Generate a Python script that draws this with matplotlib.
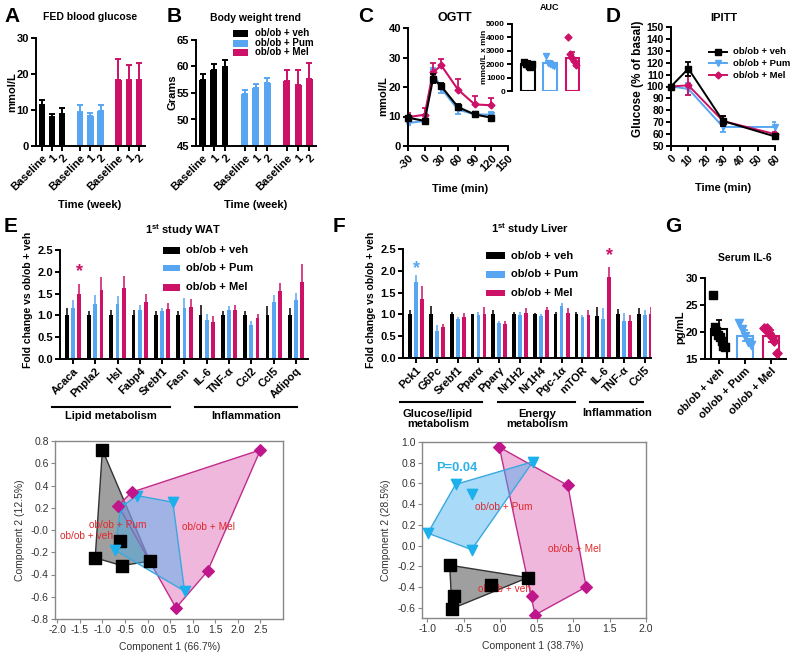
import matplotlib
matplotlib.use('Agg')
import matplotlib.pyplot as plt
import numpy as np
from matplotlib.patches import Polygon, Rectangle
from matplotlib.lines import Line2D
from matplotlib.colors import to_rgba

plt.rcParams['font.family'] = ['Liberation Sans', 'DejaVu Sans']
plt.rcParams['font.weight'] = 'bold'
plt.rcParams['axes.unicode_minus'] = False
plt.rcParams['mathtext.fontset'] = 'custom'
plt.rcParams['mathtext.rm'] = 'Liberation Sans'
plt.rcParams['mathtext.bf'] = 'Liberation Sans:bold'

# ---------------- data ----------------
groups = ["ob/ob + veh", "ob/ob + Pum", "ob/ob + Mel"]
week_labels = ["Baseline", "1", "2"]

a_veh = [11.4, 8.1, 8.8];   a_veh_err = [1.5, 0.9, 1.8]
a_pum = [9.5, 8.3, 9.7];    a_pum_err = [1.9, 1.0, 1.7]
a_mel = [18.4, 18.3, 18.4]; a_mel_err = [5.7, 4.1, 4.6]

b_veh = [57.4, 59.3, 59.9]; b_veh_err = [1.1, 1.2, 1.4]
b_pum = [54.9, 55.9, 56.9]; b_pum_err = [0.7, 0.8, 0.9]
b_mel = [57.3, 56.5, 57.6]; b_mel_err = [2.1, 2.9, 3.0]

c_time = [-30, 0, 15, 30, 60, 90, 120]
c_veh = [9.6, 8.5, 22.8, 20.2, 13.2, 10.7, 9.6];  c_veh_err = [0.8, 0.5, 1.5, 1.0, 1.0, 0.5, 0.6]
c_pum = [7.8, 8.5, 25.0, 19.5, 12.4, 10.7, 10.6]; c_pum_err = [0.8, 0.5, 1.5, 1.5, 1.6, 0.5, 0.8]
c_mel = [9.8, 10.6, 25.0, 27.3, 19.1, 14.1, 13.8]; c_mel_err = [1.5, 2.2, 3.0, 2.3, 3.7, 2.9, 2.6]

auc_mean = [1990, 2100, 2440]
auc_sem = [230, 160, 480]
auc_veh_pts = [2150, 2050, 1980, 1900, 1800, 2000]
auc_pum_pts = [2600, 2100, 2000, 1950, 1900]
auc_mel_pts = [4060, 2740, 2440, 2240, 1940]

d_time = [0, 10, 30, 60]
d_veh = [100, 115, 71, 58]; d_veh_err = [0, 6, 4, 2]
d_pum = [100, 98, 66, 66];  d_pum_err = [0, 5, 4, 4]
d_mel = [100, 101, 71, 60]; d_mel_err = [0, 8, 4, 2]

e_genes = ["Acaca", "Pnpla2", "Hsl", "Fabp4", "Srebf1", "Fasn", "IL-6", "TNF-α", "Ccl2", "Ccl5", "Adipoq"]
e_veh = [1.0] * 11
e_veh_err = [0.18, 0.10, 0.12, 0.13, 0.09, 0.09, 0.23, 0.09, 0.09, 0.22, 0.17]
e_pum = [1.18, 1.27, 1.27, 1.12, 1.09, 1.17, 0.89, 1.12, 0.78, 1.31, 1.35]
e_pum_err = [0.17, 0.19, 0.18, 0.13, 0.09, 0.24, 0.14, 0.10, 0.09, 0.15, 0.17]
e_mel = [1.49, 1.59, 1.62, 1.30, 1.14, 1.20, 0.84, 1.12, 0.95, 1.55, 1.77]
e_mel_err = [0.22, 0.30, 0.28, 0.20, 0.15, 0.17, 0.14, 0.13, 0.08, 0.19, 0.40]

f_genes = ["Pck1", "G6Pc", "Srebf1", "Pparα", "Pparγ", "Nr1H2", "Nr1H4", "Pgc-1α", "mTOR", "IL-6", "TNF-α", "Ccl5"]
f_veh = [1.0, 1.0, 1.0, 1.0, 1.0, 1.0, 1.0, 1.0, 1.0, 0.96, 1.0, 1.0]
f_veh_err = [0.09, 0.20, 0.06, 0.02, 0.09, 0.06, 0.03, 0.06, 0.05, 0.20, 0.13, 0.15]
f_pum = [1.74, 0.61, 0.89, 0.98, 0.80, 0.98, 0.96, 1.19, 0.93, 0.89, 0.86, 0.98]
f_pum_err = [0.16, 0.15, 0.04, 0.08, 0.06, 0.08, 0.05, 0.07, 0.06, 0.26, 0.17, 0.11]
f_mel = [1.35, 0.70, 0.94, 1.02, 0.79, 1.03, 1.11, 1.03, 0.99, 1.86, 0.86, 1.02]
f_mel_err = [0.29, 0.08, 0.09, 0.14, 0.07, 0.12, 0.07, 0.12, 0.10, 0.23, 0.13, 0.14]

g_mean = [20.5, 19.3, 19.2]
g_sem = [1.8, 1.0, 1.1]
g_veh_pts = [26.9, 21.0, 20.2, 19.5, 19.0, 18.3, 17.5, 17.2]
g_pum_pts = [21.7, 20.5, 19.3, 18.2, 17.6]
g_mel_pts = [20.8, 20.8, 19.8, 19.0, 18.3, 16.2]

pca_e_veh_x = [-1.0, -1.16, -0.57, -0.62, 0.05]
pca_e_veh_y = [0.72, -0.25, -0.32, -0.10, -0.28]
pca_e_pum_x = [-0.24, 0.56, 0.82, -0.72, -0.60]
pca_e_pum_y = [0.31, 0.25, -0.55, -0.18, 0.20]
pca_e_mel_x = [2.5, -0.35, -0.65, 1.33, 0.63]
pca_e_mel_y = [0.72, 0.34, 0.22, -0.37, -0.70]

pca_f_veh_x = [-0.69, 0.38, -0.13, -0.63, -0.66]
pca_f_veh_y = [-0.19, -0.31, -0.38, -0.49, -0.61]
pca_f_pum_x = [-0.61, -0.39, 0.45, -0.99, -0.39]
pca_f_pum_y = [0.59, 0.50, 0.81, 0.12, -0.04]
pca_f_mel_x = [-0.01, 0.93, 1.18, 0.48, 0.44]
pca_f_mel_y = [0.95, 0.58, -0.40, -0.67, -0.49]

# ---------------- style ----------------
C_VEH, C_PUM, C_MEL = '#000000', '#58a6f2', '#cc1166'
COLS = [C_VEH, C_PUM, C_MEL]
W, H = 800, 656
fig = plt.figure(figsize=(8, 6.56), dpi=100)


def add_ax(l, t, r, b):
    return fig.add_axes([l / W, 1 - b / H, (r - l) / W, (b - t) / H])


def ftext(x, y, s, **kw):
    kw.setdefault('ha', 'center')
    kw.setdefault('va', 'center')
    return fig.text(x / W, 1 - y / H, s, **kw)


def fline(x0, x1, y, lw=1.5, color='k'):
    fig.add_artist(Line2D([x0 / W, x1 / W], [1 - y / H, 1 - y / H],
                          transform=fig.transFigure, color=color, lw=lw))


def frect(x0, x1, y, h, color):
    fig.add_artist(Rectangle((x0 / W, 1 - (y + h / 2) / H), (x1 - x0) / W, h / H,
                             transform=fig.transFigure, color=color, lw=0))


def prism(ax, ls=8):
    for s in ['top', 'right']:
        ax.spines[s].set_visible(False)
    for s in ['left', 'bottom']:
        ax.spines[s].set_linewidth(1.4)
    ax.tick_params(labelsize=ls, width=1.4, length=3.5, pad=1.5)


def up_err(ax, x, y, e, c, lw=1.3, cap=2.5, both=False):
    e = np.atleast_1d(np.asarray(e, dtype=float))
    yerr = e if both else [np.zeros_like(e), e]
    ax.errorbar(x, y, yerr=yerr, fmt='none', ecolor=c, elinewidth=lw,
                capsize=cap, capthick=lw)


def hull(xs, ys):
    pts = sorted(set(zip(xs, ys)))

    def cross(o, a, b):
        return (a[0] - o[0]) * (b[1] - o[1]) - (a[1] - o[1]) * (b[0] - o[0])
    lower, upper = [], []
    for p in pts:
        while len(lower) >= 2 and cross(lower[-2], lower[-1], p) <= 0:
            lower.pop()
        lower.append(p)
    for p in reversed(pts):
        while len(upper) >= 2 and cross(upper[-2], upper[-1], p) <= 0:
            upper.pop()
        upper.append(p)
    return lower[:-1] + upper[:-1]


# ---------------- A & B ----------------
pos = np.array([0, 1, 2, 3.75, 4.75, 5.75, 7.5, 8.5, 9.5])


def week_bars(ax, vals, errs, ylim, yticks):
    for g in range(3):
        x = pos[3 * g:3 * g + 3]
        ax.bar(x, vals[g], width=0.62, color=COLS[g])
        up_err(ax, x, vals[g], errs[g], COLS[g], lw=1.4)
    ax.set_xlim(-0.58, 10.1)
    ax.set_ylim(*ylim)
    ax.set_yticks(yticks)
    ax.set_xticks(pos)
    ax.set_xticklabels(week_labels * 3, rotation=45, ha='right', rotation_mode='anchor')
    prism(ax)


axA = add_ax(36, 38, 145, 146)
week_bars(axA, [a_veh, a_pum, a_mel], [a_veh_err, a_pum_err, a_mel_err], (0, 30), [0, 10, 20, 30])
axB = add_ax(196, 40, 316, 146)
week_bars(axB, [b_veh, b_pum, b_mel], [b_veh_err, b_pum_err, b_mel_err], (45, 65), [45, 50, 55, 60, 65])

ftext(4, 16, 'A', fontsize=15, ha='left')
ftext(90, 17, 'FED blood glucose', fontsize=7.5)
ftext(12, 92, 'mmol/L', fontsize=8, rotation=90)
ftext(90, 205, 'Time (week)', fontsize=8)
ftext(167, 16, 'B', fontsize=15, ha='left')
ftext(256, 18, 'Body weight trend', fontsize=7.5)
ftext(172, 92, 'Grams', fontsize=8, rotation=90)
ftext(256, 205, 'Time (week)', fontsize=8)
for i, (lab, c) in enumerate(zip(groups, COLS)):
    yy = [33, 43, 52][i]
    frect(233, 248, yy, 7, c)
    ftext(255, yy, lab, fontsize=7, ha='left')

# ---------------- C ----------------
axC = add_ax(408, 28, 508, 146)
for vals, errs, c, m, s, both in [(c_pum, c_pum_err, C_PUM, 'v', 5, True),
                                  (c_mel, c_mel_err, C_MEL, 'D', 3.5, False),
                                  (c_veh, c_veh_err, C_VEH, 's', 5, True)]:
    up_err(axC, c_time, vals, errs, c, both=both)
    axC.plot(c_time, vals, color=c, marker=m, ms=s, lw=1.5, clip_on=False)
axC.set_xlim(-30, 150)
axC.set_ylim(0, 40)
axC.set_xticks([-30, 0, 30, 60, 90, 120, 150])
axC.set_xticklabels(['-30', '0', '30', '60', '90', '120', '150'], rotation=45, ha='right',
                    rotation_mode='anchor')
axC.set_yticks([0, 10, 20, 30, 40])
prism(axC)
ftext(358, 16, 'C', fontsize=15, ha='left')
ftext(455, 18, 'OGTT', fontsize=9)
ftext(383, 96, 'mmol/L', fontsize=8, rotation=90)
ftext(460, 189, 'Time (min)', fontsize=8)

axI = add_ax(512, 24, 580, 91)
axI.bar(range(3), auc_mean, width=0.6, facecolor='white', edgecolor=COLS, linewidth=1.5)
for i in range(3):
    up_err(axI, [i], [auc_mean[i]], [auc_sem[i]], COLS[i])
for i, (pts, m, s) in enumerate([(auc_veh_pts, 's', 16), (auc_pum_pts, 'v', 18), (auc_mel_pts, 'D', 12)]):
    off = np.linspace(-0.18, 0.18, len(pts))
    axI.scatter(i + off, pts, marker=m, s=s, color=COLS[i], zorder=4, clip_on=False)
axI.set_xlim(-0.72, 2.35)
axI.set_ylim(0, 5000)
axI.set_yticks([0, 1000, 2000, 3000, 4000, 5000])
axI.set_xticks([])
prism(axI, ls=6)
axI.spines['bottom'].set_visible(False)
ftext(550, 7, 'AUC', fontsize=6.5)
ftext(484, 57, 'mmol/L x min', fontsize=6, rotation=90)

# ---------------- D ----------------
axD = add_ax(671, 27, 775, 146)
for vals, errs, c, m, s in [(d_pum, d_pum_err, C_PUM, 'v', 5), (d_mel, d_mel_err, C_MEL, 'D', 3.5),
                            (d_veh, d_veh_err, C_VEH, 's', 5)]:
    up_err(axD, d_time, vals, errs, c, both=True)
    axD.plot(d_time, vals, color=c, marker=m, ms=s, lw=1.4, clip_on=False)
axD.set_xlim(0, 60)
axD.set_ylim(50, 150)
axD.set_yticks(np.arange(50, 151, 10))
axD.set_xticks([0, 10, 20, 30, 40, 50, 60])
axD.set_xticklabels(['0', '10', '20', '30', '40', '50', '60'], rotation=45, ha='right',
                    rotation_mode='anchor')
prism(axD, ls=7.5)
ftext(606, 16, 'D', fontsize=15, ha='left')
ftext(724, 18, 'IPITT', fontsize=8)
ftext(638, 79, 'Glucose (% of basal)', fontsize=8.5, rotation=90)
ftext(723, 188, 'Time (min)', fontsize=8)
for i, (lab, c, m, s) in enumerate(zip(groups, COLS, ['s', 'v', 'D'], [5, 5, 3.5])):
    yy = [52, 63, 75][i]
    fig.add_artist(Line2D([709 / W, 727 / W], [1 - yy / H] * 2, transform=fig.transFigure,
                          color=c, lw=1.4))
    fig.add_artist(Line2D([718 / W], [1 - yy / H], transform=fig.transFigure,
                          color=c, marker=m, ms=s, lw=0))
    ftext(733, yy, lab, fontsize=6.8, ha='left')


# ---------------- E & F ----------------
def gene_bars(ax, genes, vals, errs, offs, width, xlim):
    x = np.arange(len(genes))
    for g in range(3):
        ax.bar(x + offs[g], vals[g], width=width, color=COLS[g])
        up_err(ax, x + offs[g], vals[g], errs[g], COLS[g], lw=1.1, cap=0)
    ax.set_xlim(*xlim)
    ax.set_ylim(0, 2.5)
    ax.set_yticks([0.0, 0.5, 1.0, 1.5, 2.0, 2.5])
    ax.set_yticklabels(['0.0', '0.5', '1.0', '1.5', '2.0', '2.5'])
    ax.set_xticks(x)
    ax.set_xticklabels(genes, rotation=45, ha='right', rotation_mode='anchor')
    prism(ax)


axE = add_ax(60, 250, 308, 359)
gene_bars(axE, e_genes, [e_veh, e_pum, e_mel], [e_veh_err, e_pum_err, e_mel_err],
          [-0.28, 0, 0.28], 0.17, (-0.58, 10.54))
axE.text(0.28, 2.0, '*', color=C_MEL, fontsize=13, ha='center', va='center')
ftext(4, 226, 'E', fontsize=15, ha='left')
ftext(183, 230, r'1$^{\mathbf{st}}$ study WAT', fontsize=8)
ftext(28, 300, 'Fold change vs ob/ob + veh', fontsize=7.5, rotation=90)
for i, (lab, c) in enumerate(zip(groups, COLS)):
    yy = [250, 268, 287][i]
    frect(163, 180, yy, 7, c)
    ftext(186, yy, lab, fontsize=8, ha='left')
fline(52, 170, 407)
fline(195, 297, 407)
ftext(111, 416, 'Lipid metabolism', fontsize=8)
ftext(246, 416, 'Inflammation', fontsize=8)

axF = add_ax(403, 249, 651, 358)
gene_bars(axF, f_genes, [f_veh, f_pum, f_mel], [f_veh_err, f_pum_err, f_mel_err],
          [-0.29, 0, 0.29], 0.18, (-0.63, 11.3))
axF.text(0, 2.06, '*', color=C_PUM, fontsize=13, ha='center', va='center')
axF.text(9.29, 2.36, '*', color=C_MEL, fontsize=13, ha='center', va='center')
ftext(333, 226, 'F', fontsize=15, ha='left')
ftext(530, 229, r'1$^{\mathbf{st}}$ study Liver', fontsize=8)
ftext(371, 300, 'Fold change vs ob/ob + veh', fontsize=7.5, rotation=90)
for i, (lab, c) in enumerate(zip(groups, COLS)):
    yy = [256, 274, 293][i]
    frect(486, 505, yy, 7, c)
    ftext(511, yy, lab, fontsize=8, ha='left')
fline(400, 482, 402)
fline(498, 575, 402)
fline(590, 643, 402)
ftext(438, 419, 'Glucose/lipid\nmetabolism', fontsize=8, linespacing=1.0)
ftext(537, 419, 'Energy\nmetabolism', fontsize=8, linespacing=1.0)
ftext(617, 413, 'Inflammation', fontsize=8)

# ---------------- G ----------------
axG = add_ax(705, 278, 786, 359)
axG.bar(range(3), g_mean, width=0.62, facecolor='white', edgecolor=COLS, linewidth=1.5)
for i in range(3):
    up_err(axG, [i], [g_mean[i]], [g_sem[i]], COLS[i], both=True)
for i, (pts, m, s) in enumerate([(g_veh_pts, 's', 30), (g_pum_pts, 'v', 34), (g_mel_pts, 'D', 22)]):
    off = np.linspace(-0.24, 0.24, len(pts))
    axG.scatter(i + off, pts, marker=m, s=s, color=COLS[i], zorder=4, clip_on=False)
axG.set_xlim(-0.54, 2.6)
axG.set_ylim(15, 30)
axG.set_yticks([15, 20, 25, 30])
axG.set_xticks(range(3))
axG.set_xticklabels(groups, rotation=45, ha='right', rotation_mode='anchor')
prism(axG)
ftext(665, 227, 'G', fontsize=15, ha='left')
ftext(745, 258, 'Serum IL-6', fontsize=7.5)
ftext(680, 327, 'pg/mL', fontsize=8, rotation=90)

# ---------------- PCA ----------------
PV_EDGE, PP_EDGE, PM_EDGE = '#333333', '#3aa8e0', '#c02c8c'
PV_FILL, PP_FILL, PM_FILL = to_rgba('#404040', 0.5), to_rgba('#40b0f0', 0.45), to_rgba('#e070b8', 0.5)
PP_MK, PM_MK = '#1cb0ec', '#c0168c'
LBL = '#e0282c'


def pca(ax, vx, vy, px, py, mx, my, xlim, ylim, xt, yt):
    for xs, ys, fc, ec in [(vx, vy, PV_FILL, PV_EDGE), (mx, my, PM_FILL, PM_EDGE), (px, py, PP_FILL, PP_EDGE)]:
        ax.add_patch(Polygon(hull(xs, ys), closed=True, facecolor=fc, edgecolor=ec, lw=1.0))
    ax.scatter(vx, vy, marker='s', s=75, color='black', zorder=5)
    ax.scatter(px, py, marker='v', s=55, color=PP_MK, zorder=5)
    ax.scatter(mx, my, marker='D', s=35, color=PM_MK, zorder=5)
    ax.set_xlim(*xlim)
    ax.set_ylim(*ylim)
    ax.set_xticks(xt)
    ax.set_xticklabels(['%.1f' % v for v in xt])
    ax.set_yticks(yt)
    ax.set_yticklabels(['%.1f' % v for v in yt])
    for s in ax.spines.values():
        s.set_color('#888888')
        s.set_linewidth(1.0)
    ax.tick_params(labelsize=7.5, length=3, width=0.8, color='#888888', labelcolor='#333333', pad=1.5)
    for lab in ax.get_xticklabels() + ax.get_yticklabels():
        lab.set_fontweight('normal')


xtE = np.round(np.arange(-2.0, 2.51, 0.5), 1)
ytE = np.round(np.arange(-0.8, 0.81, 0.2), 1)
axPE = add_ax(55, 441, 283, 619)
pca(axPE, pca_e_veh_x, pca_e_veh_y, pca_e_pum_x, pca_e_pum_y, pca_e_mel_x, pca_e_mel_y,
    (-2.05, 3.0), (-0.8, 0.8), xtE, ytE)
axPE.text(-0.67, 0.045, 'ob/ob + Pum', color=LBL, fontsize=7.3, fontweight='normal', ha='center', va='center')
axPE.text(-1.35, -0.05, 'ob/ob + veh', color=LBL, fontsize=7.3, fontweight='normal', ha='center', va='center')
axPE.text(1.34, 0.03, 'ob/ob + Mel', color=LBL, fontsize=7.3, fontweight='normal', ha='center', va='center')
ftext(170, 647, 'Component 1 (66.7%)', fontsize=7.5, fontweight='normal', color='#333333')
ftext(20, 530, 'Component 2 (12.5%)', fontsize=7.5, fontweight='normal', color='#333333', rotation=90)

xtF = np.round(np.arange(-1.0, 2.01, 0.5), 1)
ytF = np.round(np.arange(-0.6, 1.01, 0.2), 1)
axPF = add_ax(422, 442, 646, 618)
pca(axPF, pca_f_veh_x, pca_f_veh_y, pca_f_pum_x, pca_f_pum_y, pca_f_mel_x, pca_f_mel_y,
    (-1.07, 2.0), (-0.7, 1.0), xtF, ytF)
axPF.text(-0.87, 0.75, 'P=0.04', color='#2ab0ea', fontsize=9.3, fontweight='bold', ha='left', va='center')
axPF.text(0.05, 0.37, 'ob/ob + Pum', color=LBL, fontsize=7.3, fontweight='normal', ha='center', va='center')
axPF.text(1.02, -0.03, 'ob/ob + Mel', color=LBL, fontsize=7.3, fontweight='normal', ha='center', va='center')
axPF.text(0.06, -0.42, 'ob/ob + veh', color=LBL, fontsize=7.3, fontweight='normal', ha='center', va='center')
ftext(533, 646, 'Component 1 (38.7%)', fontsize=7.5, fontweight='normal', color='#333333')
ftext(386, 530, 'Component 2 (28.5%)', fontsize=7.5, fontweight='normal', color='#333333', rotation=90)

fig.savefig('out.png', dpi=100)
